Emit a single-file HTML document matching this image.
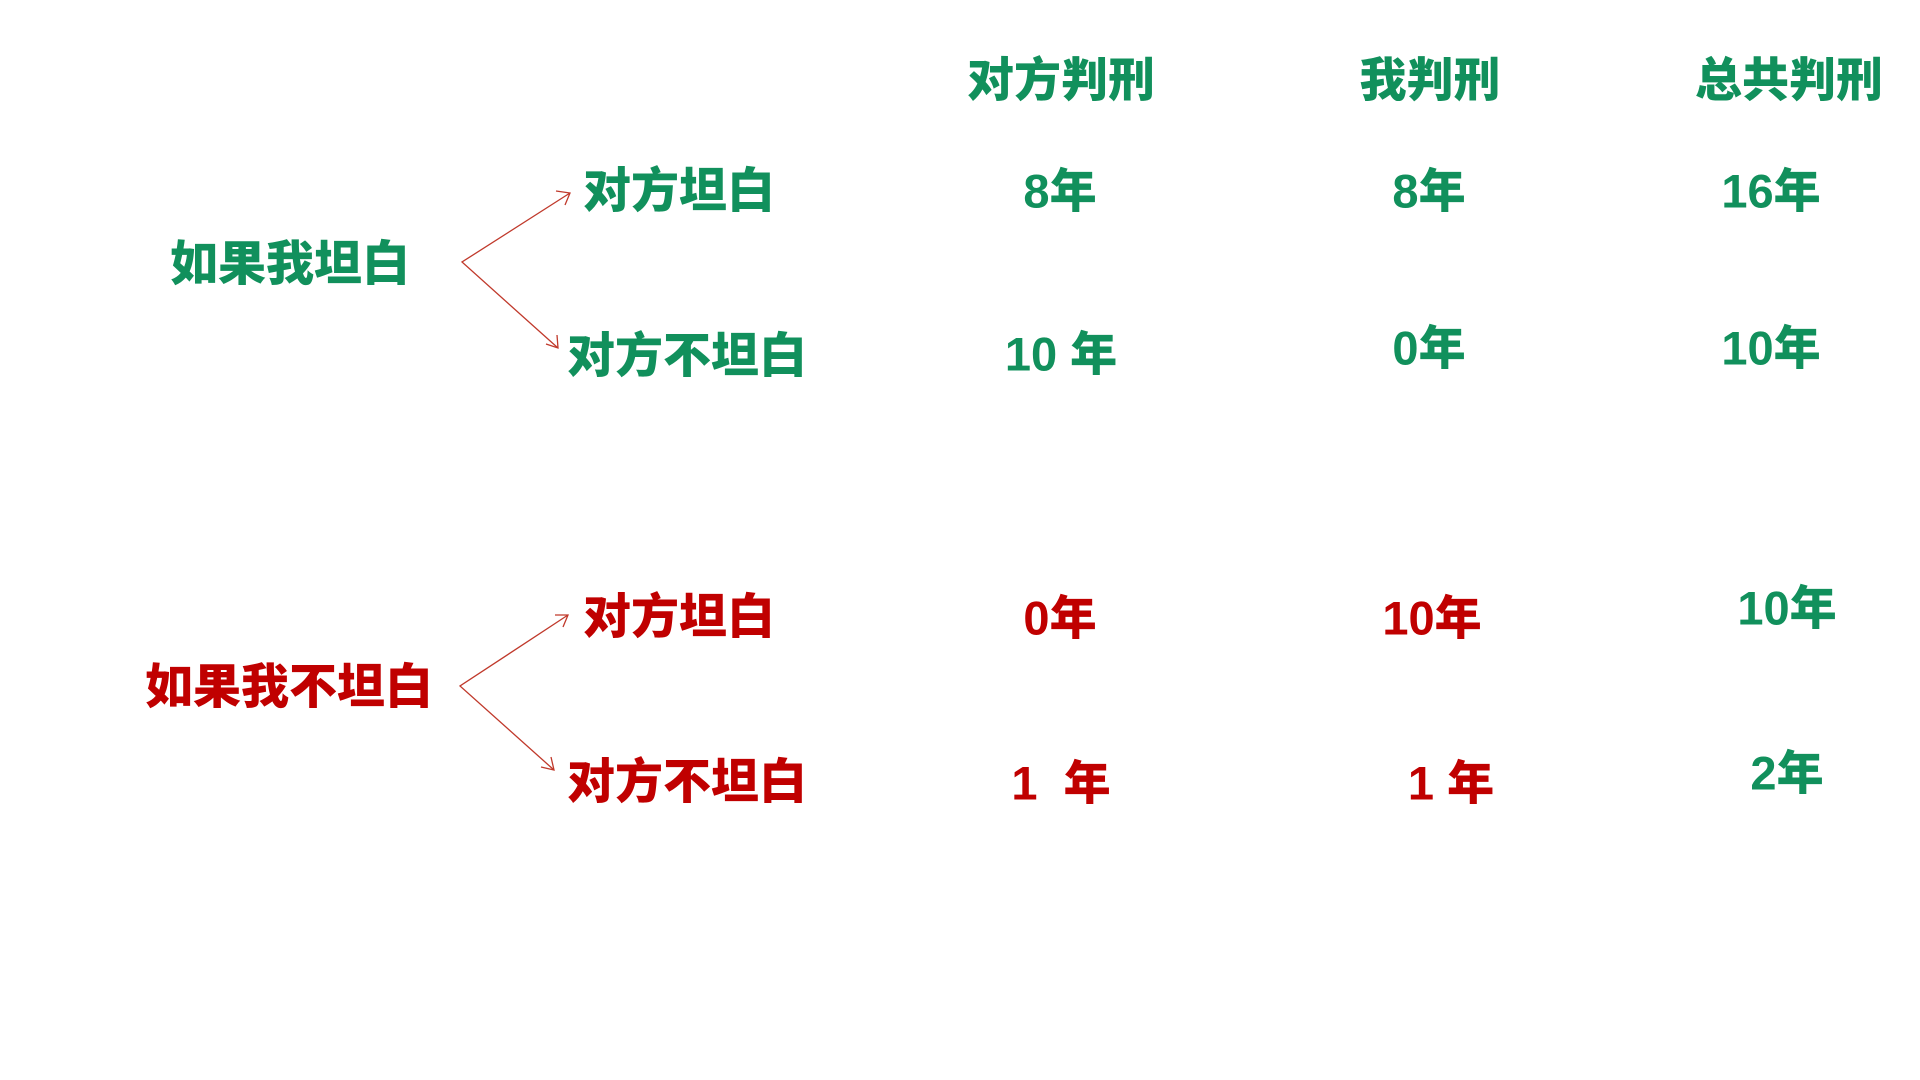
<!DOCTYPE html>
<html><head><meta charset="utf-8"><style>
html,body{margin:0;padding:0;background:#fff;}
body{width:1920px;height:1080px;position:relative;overflow:hidden;font-family:"Liberation Sans","Noto Sans CJK SC",sans-serif;font-weight:900;}
.t{position:absolute;transform:translate(-50%,-50%);line-height:1;white-space:pre;font-size:47px;}
.g{color:#11905c;}
.r{color:#c00000;}
</style></head><body>
<div class="t g" style="left:1061px;top:80px;font-size:47px">对方判刑</div>
<div class="t g" style="left:1430px;top:80px;font-size:47px">我判刑</div>
<div class="t g" style="left:1789px;top:80px;font-size:47px">总共判刑</div>

<div class="t g" style="left:290px;top:265px;font-size:48px">如果我坦白</div>
<div class="t g" style="left:679px;top:192px;font-size:48px">对方坦白</div>
<div class="t g" style="left:687px;top:357px;font-size:48px">对方不坦白</div>

<div class="t g" style="left:1060px;top:191px">8年</div>
<div class="t g" style="left:1429px;top:191px">8年</div>
<div class="t g" style="left:1771px;top:191px">16年</div>
<div class="t g" style="left:1061px;top:354px">10 年</div>
<div class="t g" style="left:1429px;top:348px">0年</div>
<div class="t g" style="left:1771px;top:348px">10年</div>

<div class="t r" style="left:289px;top:688px;font-size:48px">如果我不坦白</div>
<div class="t r" style="left:679px;top:618px;font-size:48px">对方坦白</div>
<div class="t r" style="left:687px;top:783px;font-size:48px">对方不坦白</div>

<div class="t r" style="left:1060px;top:618px">0年</div>
<div class="t r" style="left:1432px;top:618px">10年</div>
<div class="t g" style="left:1787px;top:608px">10年</div>
<div class="t r" style="left:1061px;top:783px">1  年</div>
<div class="t r" style="left:1451px;top:783px">1 年</div>
<div class="t g" style="left:1787px;top:773px">2年</div>

<svg width="1920" height="1080" style="position:absolute;left:0;top:0" fill="none" stroke="#c0392b" stroke-width="1.3">
<polyline points="570,193 462,262 558,348"/>
<polyline points="556,191 570,193 565,205"/>
<polyline points="546,344 558,348 557,335"/>
<polyline points="568,615 460,686 554,770"/>
<polyline points="555,615 568,615 563,627"/>
<polyline points="541,767 554,770 551,757"/>
</svg>
</body></html>
